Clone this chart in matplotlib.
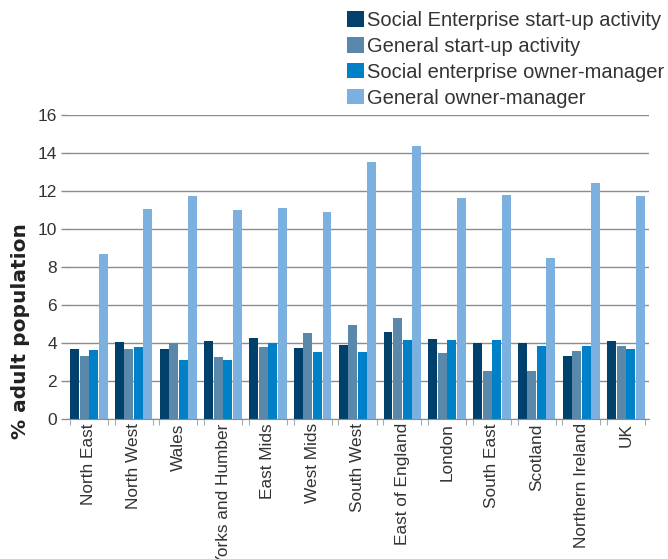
import numpy as np
import matplotlib
matplotlib.use("Agg")
import matplotlib.pyplot as plt

# ============================================================
# DATA (% of adult population)
# ============================================================

regions = ["North East", "North West", "Wales", "Yorks and Humber", "East Mids",
           "West Mids", "South West", "East of England", "London", "South East",
           "Scotland", "Northern Ireland", "UK"]

se_startup = [3.70, 4.07, 3.70, 4.12, 4.28, 3.75, 3.91, 4.60, 4.23, 4.00, 4.00, 3.33, 4.12]
gen_startup = [3.33, 3.70, 4.00, 3.28, 3.81, 4.54, 4.96, 5.33, 3.49, 2.54, 2.54, 3.60, 3.86]
se_owner = [3.65, 3.81, 3.12, 3.12, 4.00, 3.54, 3.54, 4.18, 4.18, 4.18, 3.86, 3.86, 3.70]
gen_owner = [8.70, 11.07, 11.75, 11.02, 11.12, 10.91, 13.54, 14.39, 11.65, 11.81, 8.49, 12.44, 11.75]

series_labels = ["Social Enterprise start-up activity", "General start-up activity",
                 "Social enterprise owner-manager", "General owner-manager"]

# ============================================================
# STYLE
# ============================================================

colors = ["#00416b", "#5a88ab", "#0080c6", "#7bb0df"]
grid_col = "#8c8c8c"
text_col = "#333333"
sans = ["Liberation Sans", "DejaVu Sans"]

BAR_W = 0.2
SLOT = 0.2125

fig = plt.figure(figsize=(6.68, 5.59), dpi=100)
ax = fig.add_axes([66.5 / 668, 1 - 419 / 559, 582 / 668, (419 - 115) / 559])

x = np.arange(len(regions))
all_series = [se_startup, gen_startup, se_owner, gen_owner]
for k, (vals, lab, col) in enumerate(zip(all_series, series_labels, colors)):
    ax.bar(x + (k - 1.5) * SLOT, vals, width=BAR_W, color=col, label=lab, zorder=3)

# axes
ax.set_xlim(-0.5, len(regions) - 0.5)
ax.set_ylim(0, 16)
ax.set_yticks(range(0, 17, 2))
ax.yaxis.grid(True, color=grid_col, linewidth=1.0, zorder=0)
for s in ["top", "right", "left"]:
    ax.spines[s].set_visible(False)
ax.spines["bottom"].set_color(grid_col)
ax.spines["bottom"].set_zorder(4)

ax.tick_params(axis="y", length=4, color=grid_col, width=1.0, pad=3,
               labelsize=12.5, labelcolor=text_col)
for t in ax.get_yticklabels():
    t.set_family(sans)

# category labels at group centres, small ticks at group edges
half = 2 * SLOT
ax.set_xticks(x)
ax.set_xticklabels(regions, rotation=90, family=sans, fontsize=12.4, color=text_col)
ax.tick_params(axis="x", which="major", length=0, pad=3)
ax.set_xticks(np.concatenate([x - half, x + half]), minor=True)
ax.tick_params(axis="x", which="minor", length=4, color="#aaaaaa", width=0.8)

ax.set_ylabel("% adult population", fontsize=14.5, fontweight="bold",
              family="DejaVu Sans", color="#222222")
ax.yaxis.set_label_coords(-0.0627, 0.289)

leg = fig.legend(loc="upper left", bbox_to_anchor=(347 / 668, 1 - 11 / 559),
                 frameon=False, borderaxespad=0, borderpad=0,
                 handlelength=0.85, handleheight=0.8, handletextpad=0.15,
                 labelspacing=0.34, prop={"family": sans, "size": 14.5})
for t in leg.get_texts():
    t.set_color(text_col)

fig.savefig("out.png", dpi=100)
